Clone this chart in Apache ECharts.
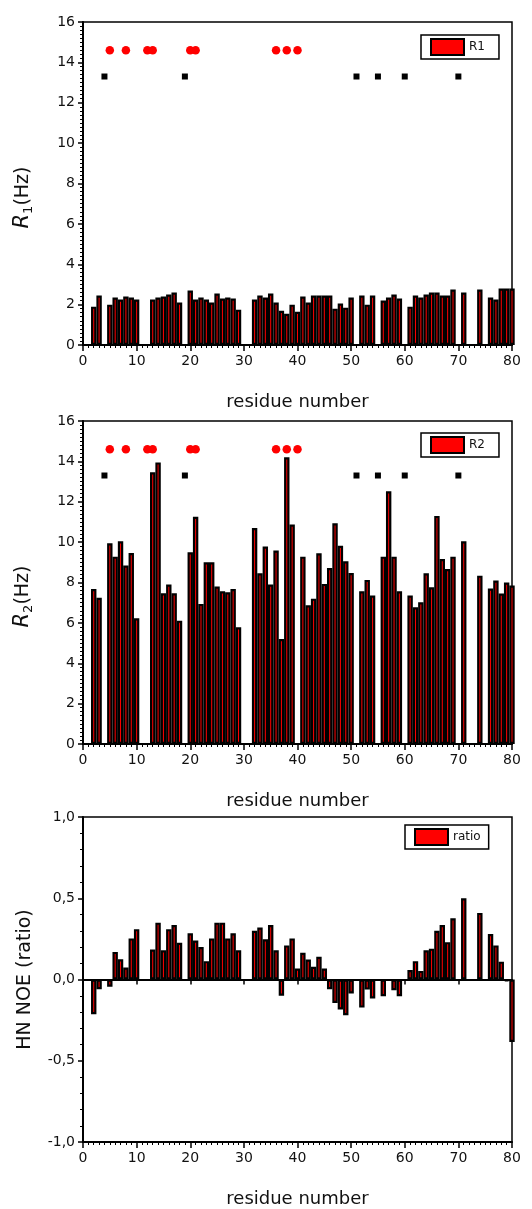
<!DOCTYPE html>
<html><head><meta charset="utf-8">
<script src="https://cdn.jsdelivr.net/npm/echarts@6/dist/echarts.min.js"></script>
<style>html,body{margin:0;padding:0;background:#fff}#c{width:532px;height:1209px}</style>
</head><body><div id="c"></div>
<script>
// residue numbers (x categories on a numeric axis)
const residues = [2,3,4,5,6,7,8,9,10,11,12,13,14,15,16,17,18,19,20,21,22,23,24,25,26,27,28,29,30,31,32,33,34,35,36,37,38,39,40,41,42,43,44,45,46,47,48,49,50,51,52,53,54,55,56,57,58,59,60,61,62,63,64,65,66,67,68,69,70,71,72,73,74,75,76,77,78,79,80];
// R1 (Hz)
const r1 = [1.9,2.45,null,2.0,2.35,2.25,2.4,2.35,2.25,null,null,2.25,2.35,2.4,2.5,2.6,2.1,null,2.7,2.25,2.35,2.25,2.1,2.55,2.3,2.35,2.3,1.75,null,null,2.25,2.45,2.35,2.55,2.1,1.7,1.55,2.0,1.65,2.4,2.1,2.45,2.45,2.45,2.45,1.8,2.05,1.85,2.35,null,2.45,2.0,2.45,null,2.2,2.35,2.5,2.3,null,1.9,2.45,2.35,2.5,2.6,2.6,2.45,2.45,2.75,null,2.6,null,null,2.75,null,2.35,2.25,2.8,2.8,2.8];
// R2 (Hz)
const r2 = [7.68,7.24,null,9.94,9.28,10.04,8.84,9.46,6.23,null,null,13.46,13.95,7.47,7.9,7.47,6.11,null,9.5,11.26,6.94,9.0,9.0,7.8,7.57,7.52,7.68,5.78,null,null,10.7,8.46,9.78,7.9,9.58,5.2,14.2,10.87,null,9.28,6.87,7.2,9.45,7.93,8.72,10.93,9.82,9.05,8.47,null,7.57,8.13,7.35,null,9.28,12.52,9.28,7.57,null,7.35,6.77,7.02,8.46,7.76,11.3,9.16,8.67,9.28,null,10.04,null,null,8.34,null,7.7,8.1,7.45,8.0,7.85];
// HN NOE ratio
const noe = [-0.214,-0.06,null,-0.045,0.17,0.125,0.074,0.253,0.31,null,null,0.185,0.35,0.18,0.31,0.335,0.226,null,0.284,0.24,0.2,0.113,0.253,0.35,0.35,0.253,0.284,0.18,null,null,0.3,0.32,0.247,0.335,0.18,-0.1,0.21,0.253,0.068,0.165,0.123,0.078,0.14,0.068,-0.06,-0.144,-0.185,-0.22,-0.086,null,-0.173,-0.062,-0.117,null,-0.103,null,-0.066,-0.103,null,0.058,0.113,0.053,0.18,0.19,0.3,0.335,0.23,0.377,null,0.5,null,null,0.41,null,0.28,0.21,0.11,-0.01,-0.385];
// marker residues and their levels (Hz)
const circleResidues = [5,8,12,13,20,21,36,38,40];
const squareResidues = [4,19,51,55,60,70];
const circleLevel = 14.6;
const squareLevel = 13.3;
// tick labels
const xTicks = ['0','10','20','30','40','50','60','70','80'];
const noeTicks = {'-1':'-1,0','-0.5':'-0,5','0':'0,0','0.5':'0,5','1':'1,0'};

const FONT = 'DejaVu Sans';
const pairs = vals => residues.map((r,i)=> vals[i]==null ? null : [r, vals[i]]).filter(Boolean);

const grids = [
  {left:83, width:429, top:22, height:323},
  {left:83, width:429, top:421, height:323},
  {left:83, width:429, top:817, height:325}
].map(g => Object.assign(g, {show:true, borderColor:'#000', borderWidth:1.5, backgroundColor:'transparent'}));

function xAxis(gi){
  return {type:'value', gridIndex:gi, min:0, max:80, interval:10,
    axisLine:{onZero:false, lineStyle:{color:'#000', width:2}},
    axisTick:{show:true, length:6, lineStyle:{color:'#000', width:1.5}},
    minorTick:{show:true, splitNumber:10, length:3, lineStyle:{color:'#000', width:1}},
    splitLine:{show:false}, minorSplitLine:{show:false},
    axisLabel:{color:'#111', fontSize:14, fontFamily:FONT, margin:9, formatter:v=>xTicks[Math.round(v/10)]},
    name:'residue number', nameLocation:'middle', nameGap:48,
    nameTextStyle:{color:'#111', fontSize:18, fontFamily:FONT}};
}
function yAxis(gi, min, max, interval, minorSplit, name, rich, fmt, pad, size){
  return {type:'value', gridIndex:gi, min, max, interval,
    axisLine:{show:true, onZero:false, lineStyle:{color:'#000', width:2}},
    axisTick:{show:true, length:5, lineStyle:{color:'#000', width:1.5}},
    minorTick:{show:true, splitNumber:minorSplit, length:3, lineStyle:{color:'#000', width:1}},
    splitLine:{show:false}, minorSplitLine:{show:false},
    axisLabel:{color:'#111', fontSize:14, fontFamily:FONT, margin:8, formatter:fmt},
    name, nameLocation:'middle', nameGap:48,
    nameTextStyle:{color:'#111', fontSize:size, fontFamily:FONT, rich, padding:pad}};
}
const richR = {
  it:{fontStyle:'italic', fontSize:21, fontFamily:FONT, color:'#111'},
  sb:{fontSize:13, fontFamily:FONT, color:'#111', padding:[11,0,0,0]},
  n:{fontSize:19, fontFamily:FONT, color:'#111'}
};

const zeroAxis = {type:'value', gridIndex:2, min:0, max:80, interval:10, position:'bottom',
  axisLine:{onZero:true, lineStyle:{color:'#000', width:2}},
  axisTick:{show:true, length:5, lineStyle:{color:'#000', width:1.5}},
  minorTick:{show:false}, axisLabel:{show:false}, splitLine:{show:false}};

function barSeries(name, xi, yi, vals){
  return {type:'bar', name, xAxisIndex:xi, yAxisIndex:yi, data:pairs(vals), barWidth:5.4, clip:true,
    itemStyle:{color:'#ff0000', borderColor:'#000', borderWidth:2.2}};
}
function markers(xi, yi){
  return [
    {type:'scatter', name:'m1', xAxisIndex:xi, yAxisIndex:yi, symbol:'circle', symbolSize:8.5,
     itemStyle:{color:'#ff0000', opacity:1}, data:circleResidues.map(r=>[r, circleLevel])},
    {type:'scatter', name:'m2', xAxisIndex:xi, yAxisIndex:yi, symbol:'rect', symbolSize:6,
     itemStyle:{color:'#000', opacity:1}, data:squareResidues.map(r=>[r, squareLevel])}
  ];
}
function legend(name, left, top, padRight){
  return {data:[name], left, top, orient:'horizontal', icon:'rect', itemWidth:33, itemHeight:16,
    borderColor:'#000', borderWidth:1.5, padding:[3,padRight,3,9], selectedMode:false,
    textStyle:{color:'#111', fontSize:12, fontFamily:FONT}};
}

const option = {
  animation:false,
  backgroundColor:'#fff',
  grid: grids,
  xAxis:[xAxis(0), xAxis(1), xAxis(2), zeroAxis],
  yAxis:[
    yAxis(0, 0, 16, 2, 10, '{it|R}{sb|1}{n|(Hz)}', richR, undefined, [0,28,0,0], 19),
    yAxis(1, 0, 16, 2, 10, '{it|R}{sb|2}{n|(Hz)}', richR, undefined, [0,28,0,0], 19),
    yAxis(2, -1, 1, 0.5, 5, 'HN NOE (ratio)', undefined, v => noeTicks[String(v)], 0, 19)
  ],
  legend:[legend('R1', 421, 35, 14), legend('R2', 421, 433, 14), legend('ratio', 405, 825, 8)],
  series:[
    barSeries('R1', 0, 0, r1), ...markers(0,0),
    barSeries('R2', 1, 1, r2), ...markers(1,1),
    barSeries('ratio', 2, 2, noe)
  ]
};
const chart = echarts.init(document.getElementById('c'), null, {renderer:'canvas'});
chart.setOption(option);
</script></body></html>
